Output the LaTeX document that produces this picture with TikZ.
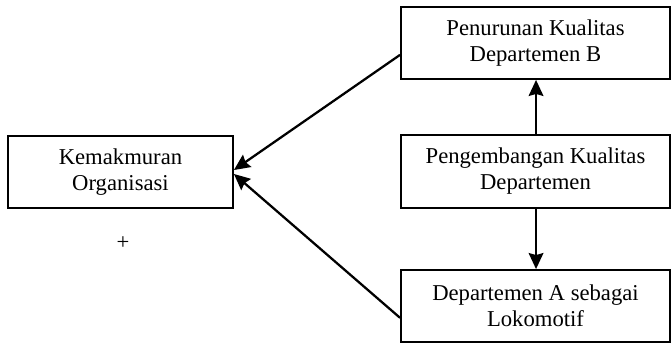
\documentclass[tikz,border=0pt]{standalone}
\usepackage{fontspec}
\setmainfont{Liberation Serif}
\usetikzlibrary{arrows.meta}
\begin{document}
\begin{tikzpicture}[x=0.75pt,y=-0.75pt,
  box/.style={draw,line width=1.4pt,align=center,inner sep=0pt,
    font=\fontsize{17}{19.5}\selectfont},
  conn/.style={line width=1.7pt,-{Stealth[length=12pt,width=11pt,inset=1.5pt]}}]
\useasboundingbox (0,0) rectangle (672,343);
\node[box,minimum width=225*0.75pt,minimum height=72*0.75pt] (left) at (120.5,172) {Kemakmuran\\Organisasi};
\node[box,minimum width=269*0.75pt,minimum height=72*0.75pt] (top) at (535.5,43) {Penurunan Kualitas\\Departemen B};
\node[box,minimum width=269*0.75pt,minimum height=73*0.75pt] (mid) at (535.5,171.5) {Pengembangan Kualitas\\Departemen};
\node[box,minimum width=269*0.75pt,minimum height=72*0.75pt] (bot) at (535.5,306) {Departemen A sebagai\\Lokomotif};
\node[font=\fontsize{17}{19.5}\selectfont] (plus) at (123,243) {+};
\draw[conn] (top.185) -- (left.1.5);
\draw[conn] (bot.185) -- (left.-1.5);
\draw[conn] ([xshift=0.4pt]mid.north) -- ([xshift=0.4pt]top.south);
\draw[conn] ([xshift=0.4pt]mid.south) -- ([xshift=0.4pt]bot.north);
\end{tikzpicture}
\end{document}
